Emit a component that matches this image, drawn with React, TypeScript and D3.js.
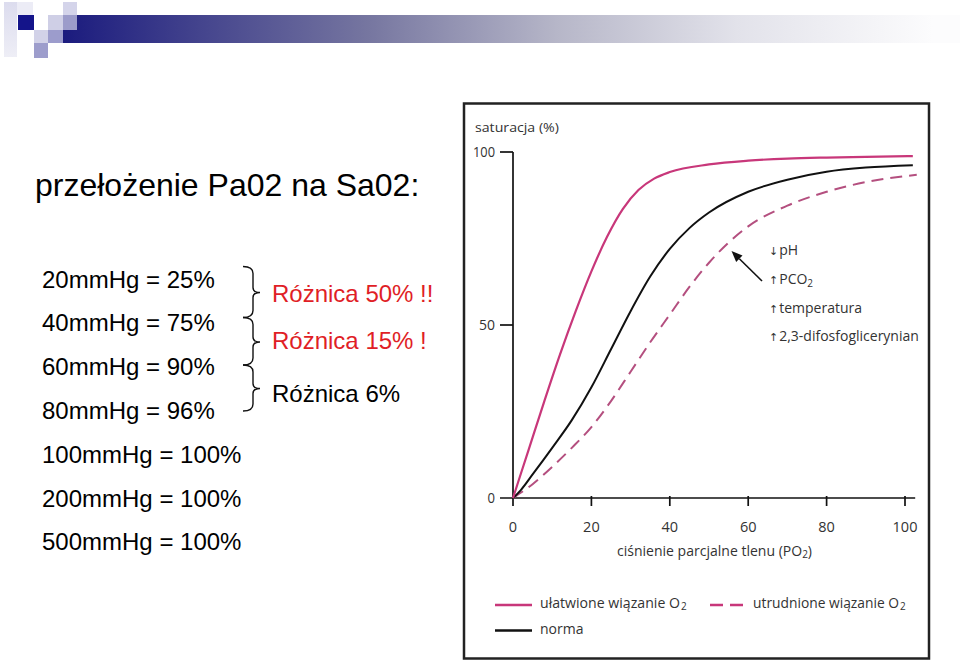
import React from "react";
import * as d3 from "d3";

const X_TICKS = [0, 20, 40, 60, 80, 100];
const Y_TICKS = [0, 50, 100];

const PO2_FACIL = [0, 4, 8, 12, 16, 20, 24, 28, 32, 36, 40, 50, 60, 70, 80, 90, 102];
const SAT_FACIL = [0, 14, 28, 41.5, 54, 65.5, 75.5, 83.5, 89, 92.3, 94.2, 96.4, 97.5, 98.1, 98.4, 98.6, 98.8];

const PO2_NORM = [0, 2, 5, 10, 15, 20, 25, 30, 35, 40, 45, 50, 60, 70, 80, 90, 102];
const SAT_NORM = [0, 2.3, 6.8, 14.5, 22.5, 32, 43, 54, 64, 72, 78, 82.5, 88.5, 92, 94.3, 95.5, 96.2];

const PO2_IMPAIR = [0, 5, 10, 15, 20, 25, 30, 35, 40, 45, 50, 60, 70, 80, 90, 103];
const SAT_IMPAIR = [0, 4, 9, 14.5, 20.5, 28, 36.5, 45, 53, 61, 68, 78.5, 84.5, 88.5, 91.3, 93.4];

const LEFT_LINES = [
  "20mmHg = 25%",
  "40mmHg = 75%",
  "60mmHg = 90%",
  "80mmHg = 96%",
  "100mmHg = 100%",
  "200mmHg = 100%",
  "500mmHg = 100%",
];
const DIFF_TEXTS = ["Różnica 50% !!", "Różnica 15% !", "Różnica 6%"];
const FACTORS = ["pH", "PCO", "temperatura", "2,3-difosfoglicerynian"];
const FACTOR_DIRS = ["↓", "↑", "↑", "↑"];

const PINK = "#c8377a";
const DASH_PINK = "#b44f7f";
const RED = "#e01e26";
const CHART_FONT = "'Open Sans', 'Noto Sans', sans-serif";
const SLIDE_FONT = "'Liberation Sans', Arial, sans-serif";

export default function App() {
  const x = d3.scaleLinear().domain([0, 100]).range([513, 905]);
  const y = d3.scaleLinear().domain([0, 100]).range([498, 152]);
  const line = d3
    .line<[number, number]>()
    .x((d) => x(d[0]))
    .y((d) => y(d[1]))
    .curve(d3.curveMonotoneX);
  const zip = (a: number[], b: number[]) => a.map((v, i) => [v, b[i]] as [number, number]);

  const braces = [
    [266.5, 292.5, 317.5],
    [317.5, 342, 365],
    [365, 388.5, 411],
  ];
  const bracePath = (t: number, m: number, b: number) => {
    const xl = 243, xv = 253, xt = 260;
    return `M${xl},${t} Q${xv},${t} ${xv},${t + 7} L${xv},${m - 5} Q${xv},${m} ${xt},${m} Q${xv},${m} ${xv},${m + 5} L${xv},${b - 7} Q${xv},${b} ${xl},${b}`;
  };

  const arrowTip: [number, number] = [x.invert(731.5), y.invert(251)];
  const arrowTail: [number, number] = [x.invert(762), y.invert(281)];
  const ax1 = x(arrowTip[0]), ay1 = y(arrowTip[1]);
  const ax2 = x(arrowTail[0]), ay2 = y(arrowTail[1]);
  const ang = Math.atan2(ay1 - ay2, ax1 - ax2);
  const hl = 11, hw = 4.5;
  const bx = ax1 - hl * Math.cos(ang), by = ay1 - hl * Math.sin(ang);
  const head = `M${ax1},${ay1} L${bx + hw * Math.sin(ang)},${by - hw * Math.cos(ang)} L${bx - hw * Math.sin(ang)},${by + hw * Math.cos(ang)} Z`;

  return (
    <div style={{ position: "absolute", left: 0, top: 0, width: 960, height: 664, background: "#fff" }}>
      <svg width={960} height={664} viewBox="0 0 960 664" style={{ display: "block" }}>
        <defs>
          <linearGradient id="bar" x1="0" x2="1" y1="0" y2="0">
            <stop offset="0" stopColor="#1b1b7e" />
            <stop offset="0.34" stopColor="#7676a0" />
            <stop offset="0.55" stopColor="#b6b6c8" />
            <stop offset="0.75" stopColor="#e2e2ea" />
            <stop offset="0.97" stopColor="#fcfcfd" />
          </linearGradient>
          <linearGradient id="strip" x1="0" x2="0" y1="0" y2="1">
            <stop offset="0" stopColor="#dcdcee" />
            <stop offset="1" stopColor="#eeeef6" />
          </linearGradient>
        </defs>
        <rect x={0} y={0} width={960} height={664} fill="#fff" />

        {/* header decoration */}
        <rect x={4} y={2} width={13} height={55} fill="url(#strip)" />
        <rect x={17} y={2} width={16} height={13} fill="#ececf6" />
        <rect x={63} y={15} width={897} height={28} fill="url(#bar)" />
        <rect x={18} y={15} width={16} height={15} fill="#14148a" />
        <rect x={48} y={15} width={15} height={15} fill="#cfcfe6" />
        <rect x={63} y={2} width={14} height={13} fill="#d4d4ea" />
        <rect x={63} y={15} width={14} height={15} fill="#9c9cca" />
        <rect x={34} y={30} width={14} height={13} fill="#d2d2e8" />
        <rect x={48} y={30} width={15} height={13} fill="#9c9ccc" />
        <rect x={34} y={43} width={14} height={15} fill="#9d9dcc" />

        {/* slide title */}
        <text x={35} y={196} fontFamily={SLIDE_FONT} fontSize={32} fill="#000">
          przełożenie Pa02 na Sa02:
        </text>

        {LEFT_LINES.map((t, i) => (
          <text key={t} x={42} y={287.5 + i * 43.8} fontFamily={SLIDE_FONT} fontSize={24} fill="#000">
            {t}
          </text>
        ))}

        {braces.map((b, i) => (
          <path key={i} d={bracePath(b[0], b[1], b[2])} fill="none" stroke="#111" strokeWidth={1.4} />
        ))}
        {DIFF_TEXTS.map((t, i) => (
          <text
            key={t}
            x={272}
            y={[301.5, 348.5, 401.5][i]}
            fontFamily={SLIDE_FONT}
            fontSize={24}
            fill={i < 2 ? RED : "#000"}
          >
            {t}
          </text>
        ))}

        {/* chart box */}
        <rect x={464} y={103.5} width={465} height={555} fill="#fff" stroke="#222" strokeWidth={2.5} />

        <text x={475} y={131.5} fontFamily={CHART_FONT} fontSize={13.5} fill="#333" textLength={84} lengthAdjust="spacingAndGlyphs">
          saturacja (%)
        </text>

        {/* axes */}
        <line x1={x(0)} x2={x(0)} y1={y(100)} y2={506} stroke="#111" strokeWidth={1.7} />
        <line x1={500} x2={x(0)} y1={y(100)} y2={y(100)} stroke="#111" strokeWidth={1.7} />
        <line x1={500} x2={x(0)} y1={y(50)} y2={y(50)} stroke="#111" strokeWidth={1.7} />
        <line x1={500} x2={x(102.6)} y1={y(0)} y2={y(0)} stroke="#111" strokeWidth={1.7} />
        {X_TICKS.filter((t) => t > 0).map((t) => (
          <line key={t} x1={x(t)} x2={x(t)} y1={y(0) - 2} y2={506} stroke="#111" strokeWidth={1.7} />
        ))}
        {Y_TICKS.map((t) => (
          <text
            key={t}
            x={495}
            y={y(t) + 1}
            textAnchor="end"
            dominantBaseline="middle"
            fontFamily={CHART_FONT}
            fontSize={14}
            fill="#333"
            textLength={t === 100 ? 22 : t === 50 ? 16 : 7.5}
            lengthAdjust="spacingAndGlyphs"
          >
            {t}
          </text>
        ))}
        {X_TICKS.map((t) => (
          <text
            key={t}
            x={x(t)}
            y={532}
            textAnchor="middle"
            fontFamily={CHART_FONT}
            fontSize={14.5}
            fill="#333"
          >
            {t}
          </text>
        ))}
        <text x={617} y={556} fontFamily={CHART_FONT} fontSize={14} fill="#333" textLength={195} lengthAdjust="spacingAndGlyphs">
          ciśnienie parcjalne tlenu (PO<tspan fontSize={10} dy={2}>2</tspan><tspan dy={-2}>)</tspan>
        </text>

        {/* curves */}
        <path d={line(zip(PO2_IMPAIR, SAT_IMPAIR)) || ""} fill="none" stroke={DASH_PINK} strokeWidth={2} strokeDasharray="12,7" />
        <path d={line(zip(PO2_NORM, SAT_NORM)) || ""} fill="none" stroke="#111" strokeWidth={2} />
        <path d={line(zip(PO2_FACIL, SAT_FACIL)) || ""} fill="none" stroke={PINK} strokeWidth={2.2} />

        {/* annotation arrow */}
        <line x1={ax2} y1={ay2} x2={bx} y2={by} stroke="#111" strokeWidth={1.6} />
        <path d={head} fill="#111" />

        {FACTORS.map((f, i) => (
          <text
            key={f}
            x={769}
            y={[255, 284, 312.5, 341][i]}
            fontFamily={CHART_FONT}
            fontSize={14}
            fill="#333"
          >
            <tspan fontSize={11} fontFamily="'DejaVu Sans', sans-serif">{FACTOR_DIRS[i]}</tspan>
            <tspan dx={1}>{f}</tspan>
            {i === 1 ? <tspan fontSize={10} dy={3}>2</tspan> : null}
          </text>
        ))}

        {/* legend */}
        <line x1={495} x2={532} y1={605} y2={605} stroke={PINK} strokeWidth={2.6} />
        <text x={540} y={608} fontFamily={CHART_FONT} fontSize={14} fill="#333" textLength={140} lengthAdjust="spacingAndGlyphs">
          ułatwione wiązanie O
        </text>
        <text x={681} y={610} fontFamily={CHART_FONT} fontSize={10} fill="#333">2</text>
        <line x1={710} x2={744} y1={605} y2={605} stroke={PINK} strokeWidth={2.6} strokeDasharray="13,7" />
        <text x={753} y={608} fontFamily={CHART_FONT} fontSize={14} fill="#333" textLength={146} lengthAdjust="spacingAndGlyphs">
          utrudnione wiązanie O
        </text>
        <text x={900} y={610} fontFamily={CHART_FONT} fontSize={10} fill="#333">2</text>
        <line x1={495} x2={532} y1={630.5} y2={630.5} stroke="#111" strokeWidth={2.6} />
        <text x={540} y={634} fontFamily={CHART_FONT} fontSize={14} fill="#333">
          norma
        </text>
      </svg>
    </div>
  );
}
